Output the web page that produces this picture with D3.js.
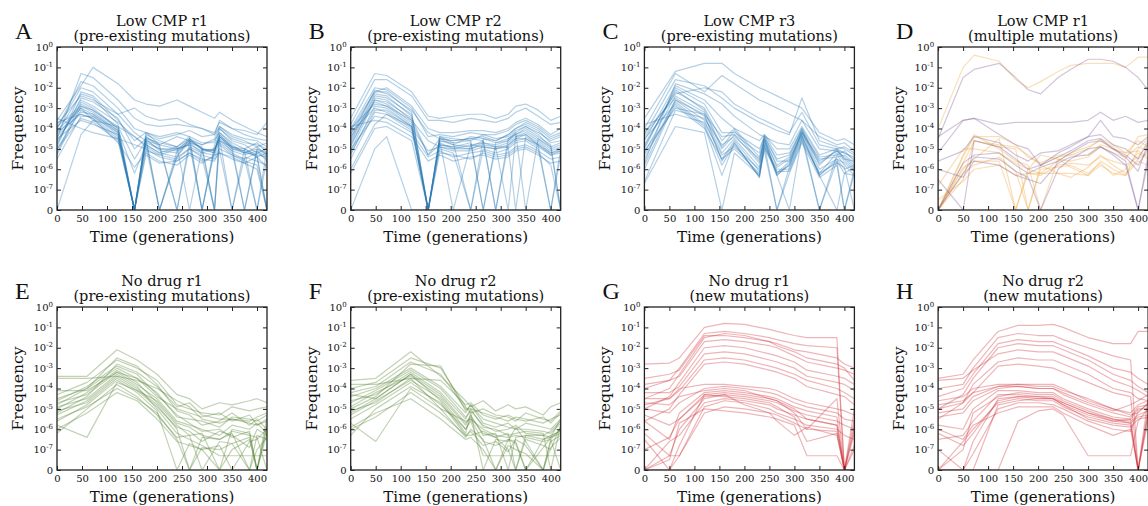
<!DOCTYPE html>
<html>
<head>
<meta charset="utf-8">
<script src="https://cdn.jsdelivr.net/npm/d3@7"></script>
<style>
  body { margin: 0; background: #fff; }
  text { font-family: "DejaVu Serif", serif; fill: #111; }
</style>
</head>
<body>
<svg id="fig" width="1148" height="506"></svg>
<script>
// values are log10(frequency); Z means a frequency of exactly 0
const Z = null;

const xTicks = [0, 50, 100, 150, 200, 250, 300, 350, 400];
const yTicks = [0, -1, -2, -3, -4, -5, -6, -7, -8];

// A: Low CMP r1, pre-existing
const timesA = [0, 48, 72, 122, 155, 178, 205, 240, 265, 290, 315, 325, 350, 375, 400, 420];
const linesA = [
  [-4.5,-1.3,-1.5,-2.6,-3.5,-3.8,-3.9,-3.8,-3.9,-4.0,-4.2,-3.7,-4.0,-4.1,-4.3,-3.7],
  [-3.6,-1.9,-1.0,-1.8,-2.6,-2.8,-2.9,-2.6,-2.9,-3.2,-3.5,-3.2,-3.6,-3.9,-4.2,-4.4],
  [-4.0,-2.0,-2.2,-3.3,-4.2,-4.6,-4.8,-4.4,-4.6,-4.8,-4.5,-3.9,-4.3,-4.5,-4.6,-4.9],
  [-4.2,-2.3,-2.5,-3.8,Z,-4.2,-4.8,-5.0,-4.6,-5.0,-5.2,-4.0,-4.6,-4.8,-5.2,-5.0],
  [-4.8,-2.5,-2.7,-3.5,-5.0,-4.5,-4.7,-4.9,-4.5,-4.8,-4.6,-4.2,-4.7,-5.0,-4.7,-5.2],
  [-5.2,-2.7,-3.0,-4.0,Z,-4.3,-4.6,-4.9,-4.4,Z,-4.8,-4.4,-5.0,-5.2,-4.9,-5.3],
  [-4.6,-2.8,-3.1,-3.9,-5.5,-4.6,Z,-5.1,-4.7,-4.9,Z,-4.2,-4.8,-5.2,-5.3,-5.4],
  [-3.9,-2.9,-3.2,-4.1,Z,-4.4,-4.9,Z,-4.6,-5.0,-5.1,-4.3,-4.9,Z,-5.0,-5.2],
  [-4.3,-3.0,-3.3,-4.2,Z,-4.7,-5.0,-5.0,-4.8,-5.1,-5.0,-4.5,Z,-5.0,-5.4,Z],
  [-5.0,-3.1,-3.4,-4.3,Z,-4.5,-5.1,-5.2,-4.6,Z,-5.0,-4.6,-5.1,-5.3,-5.1,-5.6],
  [-4.4,-3.2,-3.3,-4.1,-6.2,-4.8,-5.2,-4.9,Z,-5.0,-5.2,-4.4,-5.0,-5.1,Z,-5.0],
  [-3.7,-3.3,-3.5,-4.4,Z,-4.9,Z,-5.3,-4.7,-5.2,-5.3,-4.7,-5.2,-5.5,-5.2,-5.5],
  [-4.1,-3.0,-3.6,-4.5,Z,-4.6,-5.0,-5.1,-4.5,-5.0,Z,-4.3,-4.9,-5.0,-5.3,Z],
  [-5.5,-3.4,-3.4,-4.2,Z,-4.4,-4.8,Z,-4.9,-5.2,-5.0,-4.5,-5.1,Z,-5.1,-5.4],
  [-4.7,-2.6,-2.9,-3.7,-4.4,-4.9,-5.3,-5.0,-4.8,Z,-5.1,-4.6,-4.9,-5.2,-5.0,-5.3],
  [-3.5,-4.0,-4.2,-4.5,-4.8,-5.0,-5.4,-5.6,-5.2,-5.6,-5.4,-5.0,-5.3,-5.6,-5.8,Z],
  [Z,-4.3,-3.6,-3.9,-4.4,-4.8,-5.2,-5.4,-5.0,-5.3,-5.5,-5.2,-5.4,-5.7,-5.4,-5.9],
  [-3.8,-2.4,-2.6,-3.3,-3.0,-3.4,-3.6,-3.5,-3.8,-4.0,-4.3,-3.6,-4.0,-4.3,-4.5,-4.6],
  [-4.9,-2.2,-2.4,-3.6,-4.6,-4.2,-4.5,-4.3,-4.1,-4.4,-4.3,-3.9,-4.4,-4.6,-4.9,-4.7],
  [-5.0,-3.5,-3.7,-4.6,Z,-5.1,-5.3,-5.5,-5.0,-5.4,Z,-4.8,-5.3,-5.5,Z,-5.5],
  [-4.0,-1.7,-1.9,-3.0,-4.0,-4.2,-4.4,-4.2,-4.4,-4.7,-4.7,-4.0,-4.5,-4.7,-4.8,-5.0],
  [-4.5,-3.6,-3.8,-4.3,Z,-5.3,-5.7,-5.6,-5.2,-5.5,-5.6,-5.1,Z,-5.4,-5.6,-5.8],
  [-5.3,-2.9,-3.1,-4.0,Z,-4.5,Z,-5.4,-4.5,-5.0,-5.1,-4.4,-4.9,-5.1,-5.4,-5.2],
  [-4.2,-3.3,-3.5,-4.7,-5.9,-5.2,-5.6,-5.8,-5.3,-5.7,-5.3,-5.2,-5.5,-5.7,-6.0,Z]
];

// B: Low CMP r2, pre-existing
const timesB = [0, 48, 72, 122, 155, 178, 205, 240, 265, 290, 315, 330, 350, 375, 400, 420];
const linesB = [
  [-3.5,-1.3,-1.4,-2.2,-3.4,-3.5,-3.4,-3.3,-3.3,-3.5,-3.3,-2.9,-2.8,-3.1,-3.6,-3.4],
  [-3.8,-1.6,-1.6,-2.4,-3.6,-3.6,-3.7,-3.5,-3.6,-3.7,-3.5,-3.2,-3.0,-3.4,-3.8,-3.7],
  [-4.0,-2.0,-2.1,-3.0,-4.4,-4.3,-4.4,-4.2,-4.3,-4.3,-4.1,-3.8,-3.6,-3.9,-4.4,-4.2],
  [-4.3,-2.2,-2.2,-3.2,Z,-4.5,-4.6,-4.5,-4.4,-4.6,-4.3,-4.0,-3.8,-4.1,-4.7,-4.6],
  [-4.6,-2.3,-2.4,-3.4,Z,-4.4,-4.7,Z,-4.5,-4.7,-4.5,-4.2,-3.9,-4.3,-4.9,Z],
  [-4.9,-2.5,-2.6,-3.6,Z,-4.6,Z,-4.8,-4.7,-4.8,-4.6,-4.3,-4.1,-4.5,-5.0,-4.8],
  [-5.1,-2.6,-2.8,-3.7,-5.3,-4.8,-4.9,-4.7,Z,-4.9,-4.7,-4.4,-4.2,-4.6,-5.1,-4.9],
  [-4.4,-2.7,-2.9,-3.8,Z,-4.6,-4.8,-4.9,-4.6,Z,-4.8,-4.5,-4.3,-4.8,Z,-5.0],
  [-5.3,-2.9,-3.0,-3.9,Z,-4.7,-5.0,-5.0,-4.7,-4.9,Z,-4.4,-4.3,-4.7,-5.2,-5.1],
  [-4.2,-3.0,-3.2,-4.0,-5.1,-4.9,-5.1,-5.1,-4.9,-5.0,-4.9,-4.6,-4.5,-4.9,-5.3,-5.2],
  [-4.7,-2.4,-2.5,-3.3,Z,-4.4,-4.5,-4.6,-4.3,-4.5,-4.4,-4.1,-3.9,-4.2,-4.6,-4.4],
  [-5.5,-3.2,-3.3,-4.1,Z,-5.0,-5.2,Z,-5.0,-5.2,-5.0,-4.7,-4.6,-5.0,Z,-5.3],
  [-4.0,-2.8,-2.9,-3.6,-4.6,-4.9,-5.0,-4.8,-4.9,-5.0,-4.8,-4.5,-4.5,-4.8,-5.3,-5.1],
  [-5.0,-3.4,-3.5,-4.2,-5.4,-5.1,-5.4,-5.2,-5.1,-5.3,-5.2,-4.9,-4.8,-5.1,-5.5,-5.4],
  [-4.5,-2.1,-2.3,-3.1,-4.2,-4.5,-4.8,-4.4,-4.5,-4.6,-4.3,-4.0,-3.7,-4.0,-4.5,-4.3],
  [-3.9,-3.6,-3.7,-4.4,-5.6,-5.3,-5.6,-5.4,-5.3,-5.5,-5.4,-5.1,-5.0,-5.3,-5.7,-5.6],
  [Z,-5.0,-4.4,Z,Z,Z,Z,Z,Z,Z,Z,Z,Z,Z,Z,Z],
  [-6.0,-3.8,-3.3,-3.9,Z,-4.6,-4.7,-4.6,Z,-4.7,-4.6,-4.2,Z,-4.5,-4.9,-4.7],
  [-4.8,-2.6,-2.7,-3.5,-5.3,-4.5,-4.6,-4.5,-4.6,Z,-4.5,-4.3,-4.0,-4.4,-4.8,Z],
  [-5.2,-3.1,-3.1,-3.9,Z,-4.8,-4.9,-5.0,-4.8,-4.9,-4.9,Z,-4.4,-4.8,-5.2,-5.0],
  [-4.1,-2.2,-2.0,-2.9,-4.0,-4.2,-4.2,-4.1,-4.1,-4.2,-4.0,-3.7,-3.5,-3.8,-4.3,-4.0],
  [-6.2,-4.0,-3.9,-4.6,Z,-5.2,-5.3,-5.5,-5.2,-5.4,-5.3,-5.0,-4.9,-5.2,-5.8,Z]
];

// C: Low CMP r3, pre-existing
const timesC = [0, 62, 120, 155, 180, 230, 240, 265, 290, 315, 350, 385, 400, 420];
const linesC = [
  [-3.5,-1.2,-0.8,-0.8,-1.3,-2.0,-2.1,-2.4,-2.7,-3.0,-4.2,-4.6,-4.5,-4.8],
  [-4.0,-1.3,-2.2,-1.4,-1.8,-2.6,-2.7,-3.0,-3.3,-3.6,-4.4,-4.8,-4.7,-5.1],
  [-4.3,-1.6,-1.9,-2.5,-3.0,-3.7,-3.8,-4.1,-4.3,-2.5,-4.6,-4.9,-5.0,-5.3],
  [-4.6,-1.9,-2.6,-3.5,-4.0,-4.6,-4.3,-5.0,-5.0,-3.9,-5.3,-5.0,-5.2,-5.5],
  [-5.0,-2.0,-2.8,-4.2,-4.2,-5.0,-4.4,-5.5,-5.3,-4.1,-5.6,-5.1,-5.4,-5.8],
  [-4.8,-2.2,-3.0,-4.6,-4.0,-5.4,-4.5,-5.8,-5.4,-4.0,-5.8,-5.0,-5.5,-5.6],
  [-5.2,-2.4,-3.2,-5.0,-4.3,-5.7,-4.6,-6.2,-5.6,-4.2,-6.2,-5.2,-5.6,-6.0],
  [-4.2,-2.5,-3.4,-5.2,-4.5,-5.9,-4.5,-6.3,-5.7,-4.3,Z,-5.3,-5.8,-6.3],
  [-5.5,-2.6,-3.6,-5.5,-4.6,-6.1,-4.8,Z,-5.9,-4.4,-6.3,-5.5,-6.0,-5.8],
  [-6.0,-2.7,-3.8,-5.8,-4.8,-6.3,-4.9,-6.0,-6.0,-4.5,Z,-5.6,Z,-6.2],
  [-4.5,-2.8,-3.9,-6.3,-4.7,-6.4,-4.7,-6.3,-5.8,-4.3,-6.3,Z,-6.2,-5.9],
  [-5.3,-2.9,-4.0,-5.5,-5.0,-6.2,-5.0,-6.1,-6.1,-4.6,-6.2,-5.7,-5.9,Z],
  [-6.6,-3.1,-3.5,-4.8,-4.4,-5.5,-4.4,-5.6,-5.6,-4.2,-5.5,-5.4,-5.3,-5.7],
  [-3.8,-3.3,-3.7,-5.3,-4.9,-6.0,-4.6,-6.2,-5.8,-4.1,-6.0,-5.5,-5.7,-6.1],
  [-5.7,-1.8,-2.3,-2.8,-3.4,-4.3,-4.4,-4.7,-4.8,-3.6,-5.0,-5.1,-5.2,-5.4],
  [-6.7,-3.9,-4.2,Z,-5.2,-6.3,-5.1,Z,-6.2,-4.7,-6.4,-5.8,Z,-6.0],
  [-4.4,-2.3,-2.0,-2.2,-2.8,-3.5,-3.6,-3.9,-4.2,-3.2,-4.8,-5.0,-4.9,-5.2],
  [-5.1,-3.0,-3.3,-4.4,-4.3,-5.2,-4.3,-5.3,-5.2,-4.0,-5.4,-5.3,-5.1,-5.6],
  [-4.9,-2.1,-3.1,-4.9,-4.1,-5.6,-4.5,-5.9,-5.5,-4.2,-5.7,-5.1,-5.5,-5.9],
  [-5.8,-2.6,-3.3,-5.6,-4.7,-6.4,-4.8,-6.3,Z,-4.4,-6.3,-5.6,-6.2,-6.3]
];

// D: Low CMP r1, multiple mutations (purple and orange groups)
const timesD = [0, 50, 72, 122, 155, 180, 205, 240, 265, 300, 325, 350, 375, 400, 420];
const linesDPurple = [
  [-4.5,-1.5,-1.1,-0.8,-1.5,-2.1,-2.3,-1.5,-1.1,-0.6,-0.6,-0.7,-1.0,-1.5,-2.1],
  [-4.4,-3.6,-3.5,-3.8,-3.7,-3.7,-3.7,-3.7,-3.7,-3.6,-3.2,-3.6,-3.4,-3.7,-3.6],
  [-5.2,-3.6,-3.5,-4.3,-4.8,-5.0,-5.8,-5.2,-4.9,-4.4,-3.6,-4.4,-4.5,-4.8,-4.4],
  [Z,-5.7,-5.3,-5.2,-5.8,-6.2,-5.9,-5.6,-5.2,-4.7,-4.6,-5.0,-5.4,-6.1,-4.7],
  [Z,-6.2,-5.4,-5.5,-6.1,-6.4,Z,-6.0,-5.5,-5.0,-4.9,-5.2,-5.6,Z,-5.3],
  [-6.5,Z,-4.6,-4.9,-5.5,-6.0,-5.8,-5.4,-5.1,-4.6,-4.5,-5.0,-5.3,-5.8,-5.0],
  [-6.0,-6.4,-5.6,-5.8,-6.3,-6.5,-6.7,-5.7,-5.4,-5.3,-4.9,-5.3,-5.8,Z,-5.6],
  [-5.6,-5.1,-4.4,-4.7,-5.3,-5.6,-5.2,-5.1,-4.8,-4.4,-4.3,-4.8,-5.0,-5.5,-4.6]
];
const linesDOrange = [
  [-4.0,-1.0,-0.4,-0.7,-1.6,-2.0,-1.7,-1.2,-0.9,-0.8,-0.8,-0.8,-1.0,-0.5,-0.5],
  [Z,-5.4,-4.4,-4.4,-4.8,-5.4,-5.7,-5.3,-5.3,-5.3,-4.8,-5.0,-5.2,-5.1,-5.4],
  [Z,-5.9,-5.6,-5.6,Z,-6.2,-6.3,-5.8,-5.7,-5.8,-5.4,-5.6,-5.8,-5.4,-4.8],
  [Z,-6.5,-4.6,-4.9,-5.0,Z,-5.8,-6.2,-6.4,-5.9,-5.3,-5.8,-6.2,-5.5,-5.2],
  [Z,-6.0,-5.5,-4.5,Z,-6.0,-5.3,-5.5,-5.9,-6.3,-5.6,-6.0,-6.3,-5.0,-4.5],
  [-7.5,-6.6,-6.0,-5.8,-6.3,-6.2,-6.2,-6.2,-6.2,-6.3,-5.8,-6.2,-6.3,-5.6,-5.8],
  [Z,-5.7,-4.6,-4.8,-4.9,-5.3,-5.8,-5.4,-5.3,-5.0,-4.5,-4.8,-5.2,-4.6,-4.9],
  [Z,-5.3,-4.3,-5.0,-5.6,-5.8,Z,-5.5,-5.6,-5.4,-4.9,-5.2,-5.4,-4.9,-5.1],
  [Z,-6.2,-5.8,-5.4,-6.1,Z,-6.0,-5.9,-5.8,-6.2,-5.7,-6.3,-6.0,-5.2,-5.5],
  [-6.8,-5.0,-5.0,-5.2,-5.7,-6.0,-6.2,-5.6,-5.2,-4.9,-4.6,-4.9,-5.5,-4.4,-4.3]
];

// E: No drug r1, pre-existing
const timesE = [0, 60, 120, 160, 200, 240, 265, 290, 325, 350, 385, 400, 420];
const linesE = [
  [-3.4,-3.4,-2.1,-2.6,-3.3,-4.3,-4.5,-5.0,-4.7,-4.8,-4.6,-4.5,-4.7],
  [-4.3,-3.7,-2.6,-3.0,-3.6,-4.8,-5.0,-5.2,-5.3,-4.9,-5.1,-5.0,-4.9],
  [-4.5,-4.0,-3.0,-3.5,-4.2,-5.4,-5.5,-5.6,-5.9,-5.4,-5.5,-5.6,-5.3],
  [-4.7,-4.3,-3.2,-3.8,-4.5,-5.6,-5.8,-6.0,-6.3,-5.8,-6.0,-5.7,-6.2],
  [-5.0,-4.2,-3.1,-3.7,-4.7,-5.8,-6.3,-6.2,Z,-6.0,-6.2,Z,-5.8],
  [-5.3,-4.6,-3.4,-4.0,-4.8,-6.0,Z,-6.4,-6.5,-6.2,Z,-6.3,-6.5],
  [-4.9,-4.5,-3.3,-3.9,-5.0,-6.2,-6.5,-6.8,-7.3,-7.3,-7.3,-7.3,-7.3],
  [-5.6,-4.8,-3.6,-4.2,-5.1,Z,-6.7,-7.0,-6.8,Z,-6.6,-6.5,-6.0],
  [-6.2,-5.0,-3.8,-4.4,-5.3,-6.4,-6.3,Z,-6.6,-6.7,-6.4,Z,-5.4],
  [-4.1,-4.1,-3.2,-3.5,-4.4,-5.0,-5.2,-5.4,-5.2,-5.6,-5.3,-5.8,-5.6],
  [-5.8,-6.4,-3.7,-4.1,-4.9,-5.9,-6.1,-6.6,-6.1,-6.3,-6.9,-6.0,-6.3],
  [-5.2,-4.4,-2.8,-3.2,-3.9,-4.9,-4.7,-5.3,-5.5,-5.5,-5.6,-5.4,-5.2],
  [-3.5,-3.5,-3.4,-3.6,-4.0,-4.6,-4.9,-5.5,-5.7,-5.5,-5.7,-5.8,-5.5],
  [-4.6,-3.9,-2.9,-3.3,-4.3,-5.3,-5.7,-6.1,-6.0,-6.4,-6.1,Z,-5.9],
  [-5.5,-4.9,-4.0,-4.5,-5.2,-6.5,Z,-6.9,-7.0,-6.7,Z,-7.0,-6.4],
  [-4.8,-4.0,-2.5,-2.9,-3.8,-5.1,-5.3,-5.8,-5.6,-5.2,-5.8,-5.5,-6.0],
  [-6.0,-5.2,-4.2,-4.6,-5.5,-6.6,-6.8,-7.0,Z,-7.0,-6.5,Z,-6.2],
  [-5.1,-4.7,-3.5,-4.1,-4.6,-5.7,-5.9,-6.3,-6.5,-6.1,-6.3,-6.4,Z]
];

// F: No drug r2, pre-existing
const timesF = [0, 50, 120, 180, 230, 240, 265, 290, 315, 330, 350, 385, 400, 420];
const linesF = [
  [-3.6,-3.5,-2.2,-3.4,-4.6,-4.9,-4.6,-5.1,-4.8,-5.0,-4.9,-5.3,-4.9,-4.7],
  [-4.0,-3.7,-2.5,-3.0,-4.9,-5.2,-5.0,-5.3,-5.4,-5.6,-5.2,-5.5,-5.6,-5.1],
  [-4.4,-4.0,-3.0,-3.9,-5.2,-4.8,-5.5,-5.7,-5.9,-6.0,-5.7,-5.9,-6.0,-5.5],
  [-4.6,-4.3,-3.2,-4.2,-5.5,-5.0,-5.9,-6.0,-6.3,-6.2,-6.1,-6.2,Z,-5.8],
  [-4.9,-4.2,-3.4,-4.4,-5.8,-5.3,-6.3,-6.2,Z,-6.4,-6.3,-6.5,-6.3,-6.1],
  [-5.3,-4.6,-3.6,-4.5,-6.0,-5.6,-7.3,-7.3,-7.3,-7.3,-7.3,-7.3,-7.3,-7.3],
  [-4.3,-4.5,-3.3,-4.6,-6.2,-5.2,Z,-6.5,-6.6,-5.9,-6.6,Z,-6.5,-6.0],
  [-5.7,-6.6,-4.0,-5.0,-6.4,-6.0,-6.5,Z,-6.5,-6.7,Z,-6.5,-6.4,-5.5],
  [-6.3,-5.0,-3.9,-4.7,-6.3,-6.3,-6.1,-6.4,-7.0,Z,-6.5,-6.8,-7.0,-5.8],
  [-3.8,-3.8,-3.5,-3.6,-4.8,-4.7,-5.3,-5.5,-5.3,-5.5,-5.6,-5.4,-5.7,-5.2],
  [-5.0,-4.4,-2.8,-2.9,-5.1,-4.8,-5.7,-5.9,-5.7,-6.0,-6.0,-6.1,-6.2,-5.7],
  [-5.5,-4.8,-3.7,-4.8,-6.0,-5.5,-6.6,-6.8,-6.5,-6.6,Z,-6.9,-6.4,-6.2],
  [-4.7,-4.1,-3.1,-4.0,-5.4,-5.1,-5.8,-6.1,-6.0,-5.8,-6.2,-6.3,-6.1,-5.6],
  [-5.9,-5.2,-4.5,-5.5,-6.5,-6.4,-7.0,Z,-6.8,-7.0,-7.2,Z,-6.9,-6.4],
  [-4.2,-3.9,-2.7,-3.3,-5.0,-5.0,-5.2,-5.4,-5.6,-5.4,-5.5,-5.7,-5.5,-5.3],
  [-5.2,-4.5,-3.3,-4.3,-5.7,-5.4,-6.2,-6.4,-6.2,Z,-6.3,-6.3,-6.4,-6.0],
  [-6.0,-5.4,-4.2,-5.2,-6.3,-6.1,-6.8,-6.6,-7.1,-6.5,-6.8,Z,-6.6,-6.3],
  [-5.1,-4.7,-3.5,-5.0,-5.6,-5.5,-6.0,-6.3,-6.4,-6.3,-6.4,-6.6,-6.5,Z]
];

// G: No drug r1, new mutations
const timesG = [0, 50, 70, 120, 160, 200, 250, 265, 300, 325, 385, 400, 420];
const linesG = [
  [-2.8,-2.75,-2.5,-1.0,-0.8,-0.85,-1.1,-1.2,-1.4,-1.5,-1.5,Z,Z],
  [-4.0,-3.6,-3.0,-1.3,-1.2,-1.3,-1.5,-1.6,-1.8,-1.9,-2.0,Z,Z],
  [-4.5,-4.0,-3.3,-1.5,-1.3,-1.4,-1.7,-1.8,-2.1,-2.2,-2.5,-2.8,-3.0],
  [-3.8,-3.6,-3.4,-1.7,-1.6,-1.7,-1.9,-2.0,-2.4,-2.7,-3.0,-3.1,-3.3],
  [-5.0,-4.4,-3.7,-2.0,-1.9,-2.0,-2.3,-2.4,-2.7,-3.1,-3.4,-3.5,-3.8],
  [-4.2,-4.2,-3.9,-2.3,-2.2,-2.3,-2.6,-2.7,-3.0,-3.4,-3.7,-3.8,-4.1],
  [-4.8,-4.5,-4.1,-2.6,-2.5,-2.6,-2.9,-3.0,-3.3,-3.6,-4.0,-4.2,-4.5],
  [-3.5,-3.3,-3.1,-1.4,-1.4,-1.5,-1.7,-1.9,-2.2,-2.5,-2.8,-3.0,-3.6],
  [-5.6,-5.0,-4.3,-2.8,-2.7,-2.8,-3.1,-3.2,-3.5,-3.9,-4.3,-4.4,-4.8],
  [-4.5,-4.5,-4.0,-3.8,-3.8,-3.9,-4.0,-4.1,-4.5,-4.7,-5.0,-5.1,-5.3],
  [-5.0,-5.2,-4.7,-4.0,-3.9,-4.0,-4.2,-4.3,-4.7,-4.9,-5.2,-5.5,-5.6],
  [-5.6,-6.5,-5.2,-4.2,-4.1,-4.2,-4.4,-4.5,-4.9,-5.1,-5.4,Z,-5.8],
  [-6.2,-7.3,-6.0,-4.5,-4.3,-4.4,-4.6,-4.7,-5.1,-5.3,-5.6,-5.8,-6.0],
  [Z,-6.6,-6.3,-4.7,-4.5,-4.6,-4.8,-5.0,-5.3,-5.5,-5.8,Z,-6.2],
  [Z,Z,-7.3,-4.9,-4.6,-4.7,-5.0,-5.2,-5.5,-5.8,-6.0,-6.3,-6.5],
  [-7.0,-6.4,-5.5,-4.4,-4.3,-4.8,-5.2,-5.6,-6.3,-5.9,-6.3,Z,-5.5],
  [Z,-7.5,-5.7,-5.0,-5.1,-5.2,-5.4,-5.5,-5.8,-7.3,-7.3,Z,-6.8],
  [-6.5,Z,-6.8,-4.3,-4.4,-4.5,-4.7,-4.9,-5.4,-6.6,-6.2,Z,Z],
  [-4.7,-4.8,-4.4,-4.1,-4.0,-4.1,-4.5,-4.6,-5.0,-5.5,-5.8,Z,-6.0],
  [Z,-7.3,-7.3,-5.2,-4.9,-5.0,-5.2,-5.3,-5.7,-6.0,-6.1,Z,-7.0],
  [-5.3,-5.8,-5.5,-4.3,-4.2,-4.3,-4.5,-4.6,-5.2,-6.0,-4.5,Z,-5.0]
];

// H: No drug r2, new mutations
const timesH = [0, 50, 70, 120, 160, 200, 230, 250, 300, 350, 385, 400, 420];
const linesH = [
  [-3.5,-3.3,-2.6,-1.2,-0.9,-0.9,-0.85,-1.0,-1.5,-1.8,-1.8,-1.2,-1.2],
  [-4.0,-3.8,-3.0,-1.5,-1.3,-1.4,-1.4,-1.6,-2.0,-2.4,-2.6,Z,Z],
  [-4.4,-4.0,-3.3,-1.8,-1.6,-1.7,-1.7,-1.9,-2.4,-3.0,-3.2,-3.5,-3.8],
  [-5.0,-4.3,-3.5,-2.0,-1.8,-1.9,-1.9,-2.1,-2.6,-3.3,-3.6,-3.9,-4.2],
  [-3.6,-3.5,-3.1,-2.3,-2.1,-2.2,-2.2,-2.4,-2.9,-3.6,-3.9,-4.1,-4.4],
  [-5.5,-4.7,-3.8,-2.7,-2.5,-2.6,-2.6,-2.8,-3.3,-4.0,-4.2,-4.5,-4.6],
  [-4.6,-4.4,-4.0,-3.8,-3.8,-3.9,-3.9,-4.1,-4.5,-5.0,-5.2,-4.8,-4.6],
  [-5.2,-5.0,-4.4,-3.9,-3.9,-4.0,-4.0,-4.3,-4.8,-5.2,-5.4,-4.9,-4.8],
  [-5.8,-6.0,-5.0,-4.1,-4.1,-4.2,-4.2,-4.5,-5.0,-5.4,-5.5,-5.0,-5.0],
  [-6.5,-6.3,-5.6,-4.3,-4.3,-4.4,-4.4,-4.7,-5.2,-5.5,-5.6,-5.3,-5.1],
  [Z,Z,-6.6,-4.5,-4.4,-4.5,-4.5,-4.8,-5.3,-5.6,-5.7,Z,-5.2],
  [Z,-6.6,-6.0,-4.7,-4.5,-4.6,-4.6,-4.9,-5.4,-5.7,-5.8,Z,-5.3],
  [-7.0,Z,Z,-4.8,-4.6,-4.5,-4.5,-4.8,-5.5,-5.8,-5.9,-5.5,-5.4],
  [Z,Z,-7.2,-5.0,-4.7,-4.7,-4.8,-5.0,-5.6,-6.0,-6.1,-5.1,-4.8],
  [-6.0,-6.5,-5.8,-5.2,-4.9,-4.9,-4.9,-5.2,-5.8,-6.3,-6.0,Z,-5.6],
  [Z,Z,Z,Z,-5.6,-5.1,-5.0,-5.3,-7.3,-7.3,-7.3,-5.6,-5.0],
  [-5.4,-5.2,-4.6,-4.0,-3.9,-4.0,-4.0,-4.2,-4.7,-5.1,-4.8,-4.6,-4.3],
  [-6.2,-6.8,-6.2,-4.6,-4.4,-4.4,-4.5,-4.7,-5.2,-5.6,-5.5,Z,-5.0],
  [Z,-7.0,-5.2,-4.4,-4.2,-4.3,-4.3,-4.6,-5.1,-5.5,-5.7,-5.4,-5.3],
  [-5.0,-4.7,-4.2,-3.9,-3.8,-3.8,-3.8,-4.0,-4.6,-5.0,-5.3,-5.2,-4.7],
  [-4.8,-4.6,-4.2,-2.9,-2.8,-2.9,-3.0,-3.2,-3.7,-4.2,-4.4,Z,-4.5]
];

const blue = '#2878b5', green = '#4f7d2a', red = '#cf2a33', orange = '#eea43a', purple = '#7d5a97';

const panels = [
  { tag: 'A', title: 'Low CMP r1', sub: '(pre-existing mutations)', times: timesA, groups: [[linesA, blue]] },
  { tag: 'B', title: 'Low CMP r2', sub: '(pre-existing mutations)', times: timesB, groups: [[linesB, blue]] },
  { tag: 'C', title: 'Low CMP r3', sub: '(pre-existing mutations)', times: timesC, groups: [[linesC, blue]] },
  { tag: 'D', title: 'Low CMP r1', sub: '(multiple mutations)', times: timesD, groups: [[linesDOrange, orange], [linesDPurple, purple]] },
  { tag: 'E', title: 'No drug r1', sub: '(pre-existing mutations)', times: timesE, groups: [[linesE, green]] },
  { tag: 'F', title: 'No drug r2', sub: '(pre-existing mutations)', times: timesF, groups: [[linesF, green]] },
  { tag: 'G', title: 'No drug r1', sub: '(new mutations)', times: timesG, groups: [[linesG, red]] },
  { tag: 'H', title: 'No drug r2', sub: '(new mutations)', times: timesH, groups: [[linesH, red]] }
];

const svg = d3.select('#fig');
const W = 210, H = 163;

panels.forEach((p, i) => {
  const left = 57 + (i % 4) * 293.7;
  const top = 47 + Math.floor(i / 4) * 260;
  const g = svg.append('g').attr('transform', `translate(${left},${top})`);

  const x = d3.scaleLinear().domain([0, 420]).range([0, W]);
  const y = d3.scaleLinear().domain([-8, 0]).range([H, 0]);

  g.append('clipPath').attr('id', 'clip' + i)
    .append('rect').attr('width', W).attr('height', H);

  const line = d3.line()
    .x((d, j) => x(p.times[j]))
    .y(d => y(d == null ? -8 : d));

  const plot = g.append('g').attr('clip-path', `url(#clip${i})`);
  p.groups.forEach(([lines, color]) => {
    plot.selectAll(null)
      .data(lines)
      .enter()
      .append('path')
      .attr('d', line)
      .attr('fill', 'none')
      .attr('stroke', color)
      .attr('stroke-width', 1.2)
      .attr('stroke-opacity', 0.35)
      .attr('stroke-linejoin', 'round');
  });

  // inward ticks on all four sides
  const xb = d3.axisBottom(x).tickValues(xTicks).tickSize(-4).tickPadding(5);
  const xt = d3.axisTop(x).tickValues(xTicks).tickSize(-4).tickFormat('');
  const yl = d3.axisLeft(y).tickValues(yTicks).tickSize(-4).tickPadding(4).tickFormat(() => '');
  const yr = d3.axisRight(y).tickValues(yTicks).tickSize(-4).tickFormat('');

  const gx = g.append('g').attr('transform', `translate(0,${H})`).call(xb);
  g.append('g').call(xt);
  const gy = g.append('g').call(yl);
  g.append('g').attr('transform', `translate(${W},0)`).call(yr);

  g.selectAll('.domain').remove();
  g.selectAll('.tick line').attr('stroke', '#222').attr('stroke-width', 1);
  gx.selectAll('text').attr('font-size', 10).attr('fill', '#333')
    .style('font-family', '"DejaVu Serif", serif');

  gy.selectAll('.tick text').each(function (v) {
    const t = d3.select(this).attr('font-size', 10).attr('fill', '#333')
      .style('font-family', '"DejaVu Serif", serif');
    if (v === -8) { t.text('0'); return; }
    t.append('tspan').text('10');
    t.append('tspan').attr('dy', -4).attr('font-size', 7).text(v === 0 ? '0' : '-' + (-v));
  });

  g.append('rect')
    .attr('width', W).attr('height', H)
    .attr('fill', 'none').attr('stroke', '#222').attr('stroke-width', 1.3);

  g.append('text').attr('x', W / 2).attr('y', -21)
    .attr('text-anchor', 'middle').attr('font-size', 14.5).text(p.title);
  g.append('text').attr('x', W / 2).attr('y', -6)
    .attr('text-anchor', 'middle').attr('font-size', 14.5).text(p.sub);
  g.append('text').attr('x', -42).attr('y', -8)
    .attr('font-size', 24).style('font-family', '"Liberation Serif", serif').text(p.tag);

  g.append('text').attr('x', W / 2).attr('y', H + 32)
    .attr('text-anchor', 'middle').attr('font-size', 15).text('Time (generations)');
  g.append('text')
    .attr('transform', `translate(-34,${H / 2}) rotate(-90)`)
    .attr('text-anchor', 'middle').attr('font-size', 15.5).text('Frequency');
});
</script>
</body>
</html>
